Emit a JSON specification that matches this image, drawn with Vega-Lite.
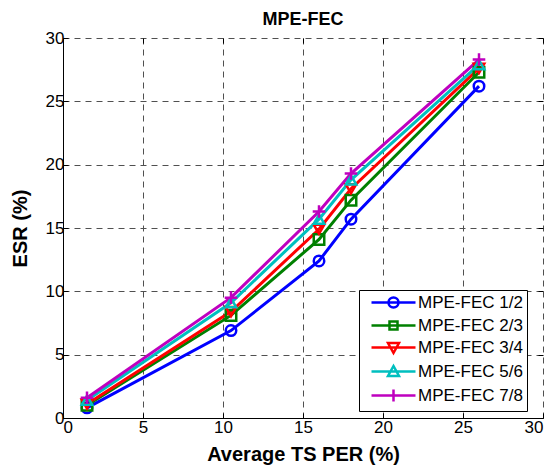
{
  "$schema": "https://vega.github.io/schema/vega-lite/v6.json",
  "width": 480,
  "height": 380,
  "autosize": "none",
  "padding": {"left": 63, "top": 38, "right": 11, "bottom": 50},
  "background": "white",
  "title": {"text": "MPE-FEC", "font": "Liberation Sans", "fontSize": 18, "fontWeight": "bold", "color": "black", "offset": 0},
  "config": {
    "view": {"stroke": null},
    "font": "Liberation Sans",
    "axis": {
      "labelFont": "Liberation Sans", "labelFontSize": 17, "labelColor": "black",
      "titleFont": "Liberation Sans", "titleFontSize": 20, "titleFontWeight": "bold", "titleColor": "black",
      "domainColor": "black", "domainWidth": 1, "tickColor": "black", "tickWidth": 1,
      "gridColor": "#505050", "gridDash": [6, 5], "gridWidth": 1, "gridOpacity": 1
    }
  },
  "data": {
    "values": [
      {"per": 1.5, "esr": 0.8, "series": "MPE-FEC 1/2"},
      {"per": 10.5, "esr": 6.9, "series": "MPE-FEC 1/2"},
      {"per": 16, "esr": 12.4, "series": "MPE-FEC 1/2"},
      {"per": 18, "esr": 15.7, "series": "MPE-FEC 1/2"},
      {"per": 26, "esr": 26.2, "series": "MPE-FEC 1/2"},
      {"per": 1.5, "esr": 1.0, "series": "MPE-FEC 2/3"},
      {"per": 10.5, "esr": 8.1, "series": "MPE-FEC 2/3"},
      {"per": 16, "esr": 14.1, "series": "MPE-FEC 2/3"},
      {"per": 18, "esr": 17.2, "series": "MPE-FEC 2/3"},
      {"per": 26, "esr": 27.3, "series": "MPE-FEC 2/3"},
      {"per": 1.5, "esr": 1.1, "series": "MPE-FEC 3/4"},
      {"per": 10.5, "esr": 8.4, "series": "MPE-FEC 3/4"},
      {"per": 16, "esr": 14.9, "series": "MPE-FEC 3/4"},
      {"per": 18, "esr": 18.1, "series": "MPE-FEC 3/4"},
      {"per": 26, "esr": 27.6, "series": "MPE-FEC 3/4"},
      {"per": 1.5, "esr": 1.4, "series": "MPE-FEC 5/6"},
      {"per": 10.5, "esr": 9.1, "series": "MPE-FEC 5/6"},
      {"per": 16, "esr": 15.7, "series": "MPE-FEC 5/6"},
      {"per": 18, "esr": 18.8, "series": "MPE-FEC 5/6"},
      {"per": 26, "esr": 27.9, "series": "MPE-FEC 5/6"},
      {"per": 1.5, "esr": 1.6, "series": "MPE-FEC 7/8"},
      {"per": 10.5, "esr": 9.5, "series": "MPE-FEC 7/8"},
      {"per": 16, "esr": 16.3, "series": "MPE-FEC 7/8"},
      {"per": 18, "esr": 19.3, "series": "MPE-FEC 7/8"},
      {"per": 26, "esr": 28.3, "series": "MPE-FEC 7/8"}
    ]
  },
  "layer": [
    {
      "mark": {"type": "rule", "opacity": 0},
      "encoding": {
        "x": {"field": "per", "type": "quantitative", "scale": {"domain": [0, 30], "nice": false},
          "axis": {"orient": "top", "values": [0, 5, 10, 15, 20, 25, 30], "labels": false, "domain": false, "grid": false, "tickSize": -5, "title": null}},
        "y": {"field": "esr", "type": "quantitative", "scale": {"domain": [0, 30], "nice": false},
          "axis": {"orient": "right", "values": [0, 5, 10, 15, 20, 25, 30], "labels": false, "domain": false, "grid": false, "tickSize": -5, "title": null}}
      }
    },
    {
      "mark": {"type": "line", "strokeWidth": 3},
      "encoding": {
        "x": {"field": "per", "type": "quantitative", "scale": {"domain": [0, 30], "nice": false},
          "axis": {"orient": "bottom", "values": [0, 5, 10, 15, 20, 25, 30], "tickSize": -5, "labelPadding": 6, "title": "Average TS PER (%)", "titlePadding": 9, "grid": true}},
        "y": {"field": "esr", "type": "quantitative", "scale": {"domain": [0, 30], "nice": false},
          "axis": {"orient": "left", "values": [0, 5, 10, 15, 20, 25, 30], "tickSize": -5, "labelPadding": 4, "title": "ESR (%)", "titlePadding": 15, "grid": true}},
        "color": {"field": "series", "type": "nominal", "legend": null,
          "scale": {"domain": ["MPE-FEC 1/2", "MPE-FEC 2/3", "MPE-FEC 3/4", "MPE-FEC 5/6", "MPE-FEC 7/8"],
            "range": ["#0000FF", "#008000", "#FF0000", "#00BFBF", "#BF00BF"]}}
      }
    },
    {
      "mark": {"type": "point", "filled": false, "strokeWidth": 2.5, "opacity": 1, "size": 110},
      "encoding": {
        "x": {"field": "per", "type": "quantitative", "scale": {"domain": [0, 30], "nice": false}, "axis": null},
        "y": {"field": "esr", "type": "quantitative", "scale": {"domain": [0, 30], "nice": false}, "axis": null},
        "color": {"field": "series", "type": "nominal", "legend": null,
          "scale": {"domain": ["MPE-FEC 1/2", "MPE-FEC 2/3", "MPE-FEC 3/4", "MPE-FEC 5/6", "MPE-FEC 7/8"],
            "range": ["#0000FF", "#008000", "#FF0000", "#00BFBF", "#BF00BF"]}},
        "shape": {"field": "series", "type": "nominal", "legend": null,
          "scale": {"domain": ["MPE-FEC 1/2", "MPE-FEC 2/3", "MPE-FEC 3/4", "MPE-FEC 5/6", "MPE-FEC 7/8"],
            "range": ["circle", "square", "triangle-down", "triangle-up", "M-1.2,0H1.2M0,-1.2V1.2"]}}
      }
    },
    {
      "transform": [{"filter": "false"}],
      "mark": {"type": "point", "filled": false, "strokeWidth": 2.5, "opacity": 1},
      "encoding": {
        "x": {"field": "per", "type": "quantitative", "scale": {"domain": [0, 30], "nice": false}, "axis": null},
        "y": {"field": "esr", "type": "quantitative", "scale": {"domain": [0, 30], "nice": false}, "axis": null},
        "color": {"field": "series", "type": "nominal",
          "scale": {"domain": ["MPE-FEC 1/2", "MPE-FEC 2/3", "MPE-FEC 3/4", "MPE-FEC 5/6", "MPE-FEC 7/8"],
            "range": ["#0000FF", "#008000", "#FF0000", "#00BFBF", "#BF00BF"]},
          "legend": {"title": null, "orient": "none", "legendX": 296, "legendY": 252,
            "strokeColor": "black", "fillColor": "white", "padding": 4,
            "symbolSize": 100, "symbolStrokeWidth": 2.5, "labelOffset": 38,
            "labelFont": "Liberation Sans", "labelFontSize": 17, "labelColor": "black", "rowPadding": 3}},
        "shape": {"field": "series", "type": "nominal",
          "scale": {"domain": ["MPE-FEC 1/2", "MPE-FEC 2/3", "MPE-FEC 3/4", "MPE-FEC 5/6", "MPE-FEC 7/8"],
            "range": [
              "M0,0H8.8M5.4,0A1,1 0 1,1 3.4,0A1,1 0 1,1 5.4,0",
              "M0,0H8.8M3.6,-0.8H5.2V0.8H3.6Z",
              "M0,0H8.8M3.3,-0.9L5.5,-0.9L4.4,1.1Z",
              "M0,0H8.8M3.3,0.9L5.5,0.9L4.4,-1.1Z",
              "M0,0H8.8M4.4,-1.2V1.2"
            ]},
          "legend": {"title": null, "orient": "none", "legendX": 296, "legendY": 252,
            "strokeColor": "black", "fillColor": "white", "padding": 4,
            "symbolSize": 100, "symbolStrokeWidth": 2.5, "labelOffset": 38,
            "labelFont": "Liberation Sans", "labelFontSize": 17, "labelColor": "black", "rowPadding": 3}}
      }
    }
  ],
  "resolve": {"scale": {"color": "independent", "shape": "independent"}}
}
